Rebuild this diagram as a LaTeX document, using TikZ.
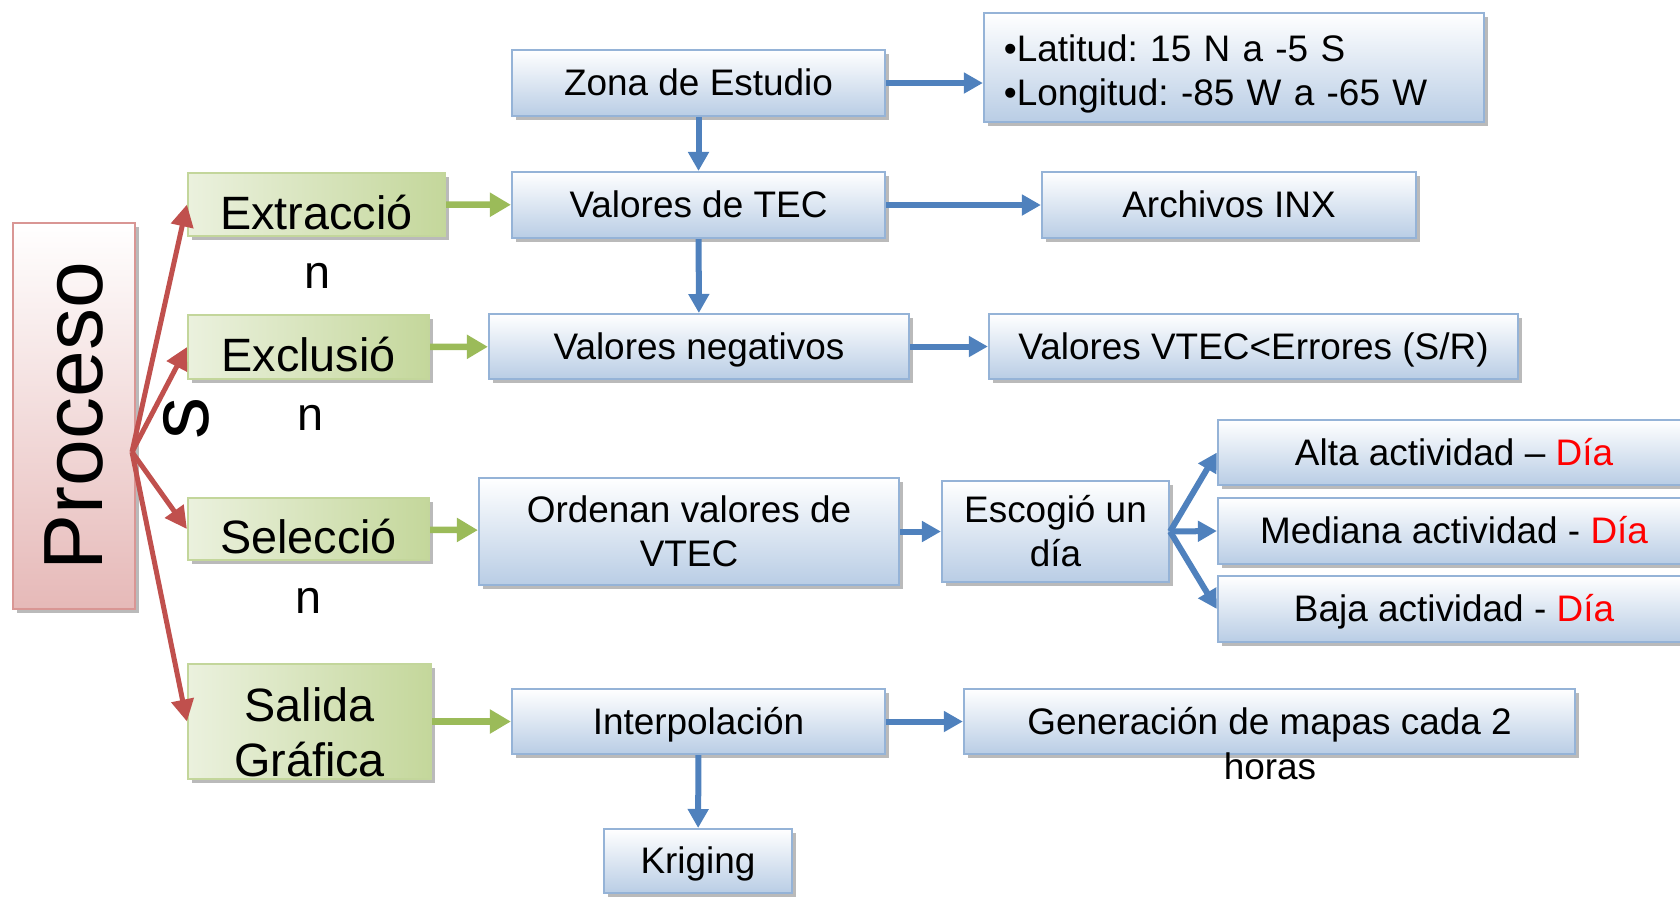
\documentclass[tikz,border=0pt]{standalone}
\usepackage{fontspec}
\setmainfont{Liberation Sans}
\usepackage{tikz}
\usetikzlibrary{arrows.meta, shadows, positioning}
\definecolor{procesocolor}{RGB}{230,185,184}
\definecolor{procesoborde}{RGB}{217,150,148}
\definecolor{etapacolor}{RGB}{196,215,155}
\definecolor{etapaclaro}{RGB}{235,241,222}
\definecolor{etapaborde}{RGB}{195,214,155}
\definecolor{pasocolor}{RGB}{185,205,229}
\definecolor{pasoborde}{RGB}{149,179,215}
\definecolor{azulosc}{RGB}{79,129,189}
\definecolor{verdeosc}{RGB}{155,187,89}
\definecolor{rojoosc}{RGB}{192,80,77}
\frenchspacing

\begin{document}
\begin{tikzpicture}[
    x=0.01cm, y=-0.01cm,
    sombra/.style={drop shadow={shadow xshift=0.04cm, shadow yshift=-0.04cm, fill=black!45, opacity=0.6}},
    proceso/.style={draw=procesoborde, line width=0.02cm, top color=white, bottom color=procesocolor, sombra, minimum width=1.22cm, minimum height=3.86cm, inner sep=0pt, font=\fontsize{23.9}{29}\selectfont},
    etapa/.style={draw=etapaborde, line width=0.02cm, left color=etapaclaro, right color=etapacolor, sombra, inner sep=0pt, align=center, font=\fontsize{13.3}{15.6}\selectfont},
    paso/.style={draw=pasoborde, line width=0.02cm, top color=white, bottom color=pasocolor, sombra, inner sep=0pt, align=center, font=\fontsize{10.5}{12.5}\selectfont},
    linea/.style={text height=0.335cm, text depth=0.078cm},
    lineag/.style={text height=0.49cm, text depth=0cm},
    resto/.style={inner sep=0pt, font=\fontsize{13.3}{15.6}\selectfont},
    flecha/.style={draw=azulosc, line width=0.06cm, -{Triangle[length=0.19cm, width=0.2cm]}},
    flechav/.style={draw=verdeosc, line width=0.065cm, -{Triangle[length=0.21cm, width=0.23cm]}},
    flechar/.style={draw=rojoosc, line width=0.05cm, -{Triangle[length=0.22cm, width=0.22cm]}}
]
    \useasboundingbox (0,0) rectangle (1680,896);

    % Proceso
    \node[proceso] (proc) at (74,416) {\rotatebox{90}{Proceso}};
    \coordinate (fork) at (132,452);

    % Etapas
    \node[etapa, lineag, minimum width=2.57cm, minimum height=0.63cm] (ext) at (316.5,204.5) {Extracció};
    \node[etapa, lineag, minimum width=2.41cm, minimum height=0.64cm] (exc) at (308.5,347) {Exclusió};
    \node[etapa, lineag, minimum width=2.41cm, minimum height=0.62cm] (sel) at (308.5,529) {Selecció};
    \node[etapa, minimum width=2.43cm, minimum height=1.15cm] (sal) at (309.5,721.5) {\rule{0pt}{0.56cm}Salida\\Gráfica};
    \node[resto, anchor=base] (extn) at (317,288) {n};
    \node[resto, anchor=base] (excn) at (310,430) {n};
    \node[resto, anchor=base] (seln) at (309,613) {n};

    % Pasos
    \node[paso, linea, minimum width=3.73cm, minimum height=0.66cm] (zona) at (698.5,83) {Zona de Estudio};
    \node[paso, minimum width=5cm, minimum height=1.09cm, text width=4.6cm, align=left] (lat) at (1234,67.5) {\rule{0pt}{0.4cm}•Latitud: 15 N a -5 S\\•Longitud: -85 W a -65 W};
    \node[paso, linea, minimum width=3.73cm, minimum height=0.66cm] (tec) at (698.5,205) {Valores de TEC};
    \node[paso, linea, minimum width=3.74cm, minimum height=0.66cm] (inx) at (1229,205) {Archivos INX};
    \node[paso, linea, minimum width=4.2cm, minimum height=0.65cm] (neg) at (699,346.5) {Valores negativos};
    \node[paso, linea, minimum width=5.29cm, minimum height=0.65cm] (vtec) at (1253.5,346.5) {Valores VTEC<Errores (S/R)};
    \node[paso, minimum width=4.2cm, minimum height=1.07cm] (ord) at (689,531.5) {Ordenan valores de\\VTEC};
    \node[paso, minimum width=2.27cm, minimum height=1.01cm] (esc) at (1055.5,531.5) {Escogió un\\día};
    \node[paso, linea, minimum width=4.72cm, minimum height=0.65cm] (alta) at (1454,452.5) {Alta actividad – \textcolor{red}{Día}};
    \node[paso, linea, minimum width=4.72cm, minimum height=0.66cm] (med) at (1454,531) {Mediana actividad - \textcolor{red}{Día}};
    \node[paso, linea, minimum width=4.72cm, minimum height=0.66cm] (baja) at (1454,609) {Baja actividad - \textcolor{red}{Día}};
    \node[paso, linea, minimum width=3.73cm, minimum height=0.65cm] (interp) at (698.5,721.5) {Interpolación};
    \node[paso, linea, minimum width=6.11cm, minimum height=0.65cm] (gen) at (1269.5,721.5) {Generación de mapas cada 2};
    \node[resto, anchor=base, font=\fontsize{10.5}{12.5}\selectfont] (genh) at (1270,779) {horas};
    \node[paso, linea, minimum width=1.88cm, minimum height=0.64cm] (krig) at (698,861) {Kriging};

    % Flechas rojas
    \foreach \e in {ext, exc, sel, sal}
        \draw[flechar] (fork) -- (\e.west);
    \node[resto, font=\fontsize{23.9}{29}\selectfont] (procs) at (186,418) {\rotatebox{90}{s}};

    % Flechas verdes
    \draw[flechav] (ext) -- (tec);
    \draw[flechav] (exc) -- (neg);
    \draw[flechav] (sel) -- (ord);
    \draw[flechav] (sal) -- (interp);

    % Flechas azules
    \draw[flecha] (zona.east) -- (zona.east -| lat.west);
    \draw[flecha] (zona) -- (tec);
    \draw[flecha] (tec) -- (inx);
    \draw[flecha] (tec) -- (neg);
    \draw[flecha] (neg) -- (vtec);
    \draw[flecha] (ord) -- (esc);
    \draw[flecha] (esc.east) -- (alta.west);
    \draw[flecha] (esc.east) -- (med.west);
    \draw[flecha] (esc.east) -- (baja.west);
    \draw[flecha] (interp) -- (gen);
    \draw[flecha] (interp) -- (krig);
\end{tikzpicture}
\end{document}
